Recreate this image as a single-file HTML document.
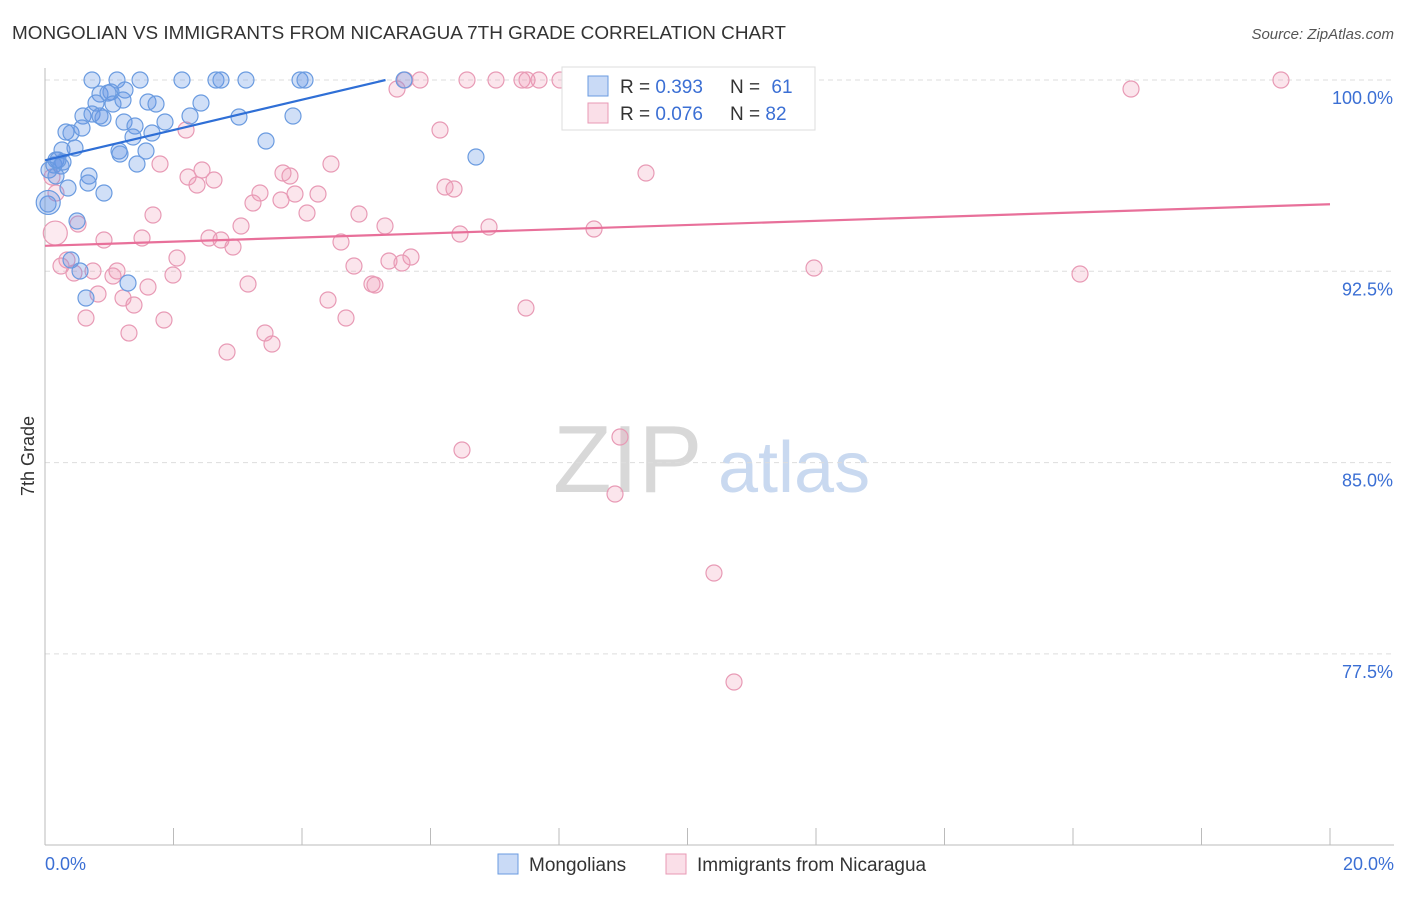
<!DOCTYPE html>
<html><head><meta charset="utf-8">
<style>
body{margin:0;background:#fff;font-family:"Liberation Sans",sans-serif;}
svg text{font-family:"Liberation Sans",sans-serif;}
</style></head>
<body>
<svg id="chart" width="1406" height="892" xmlns="http://www.w3.org/2000/svg">
<text x="12" y="39" font-size="18" fill="#333" textLength="774" lengthAdjust="spacingAndGlyphs">MONGOLIAN VS IMMIGRANTS FROM NICARAGUA 7TH GRADE CORRELATION CHART</text>
<text x="1394" y="39" font-size="15" fill="#555" font-style="italic" text-anchor="end">Source: ZipAtlas.com</text>
<g>
<text x="553" y="492" font-size="96" fill="#d8d8d8" font-family="Liberation Serif, serif">ZIP</text>
<text x="718" y="492" font-size="72" fill="#c9d9f0">atlas</text>
</g>
<g id="grid"></g>
<g id="axes"></g>
<g id="marks"></g>
<text transform="translate(34,456) rotate(-90)" font-size="18" fill="#333" text-anchor="middle">7th Grade</text>
<g>
<rect x="562" y="67" width="253" height="63" fill="#fff" stroke="#ddd"/>
<rect x="588" y="76" width="20" height="20" fill="rgba(100,150,230,0.35)" stroke="#6a9be0"/>
<text x="620" y="93" font-size="19" fill="#333">R = <tspan fill="#3b6fd4">0.393</tspan></text>
<text x="730" y="93" font-size="19" fill="#333">N = <tspan fill="#3b6fd4" dx="6">61</tspan></text>
<rect x="588" y="103" width="20" height="20" fill="rgba(240,150,180,0.3)" stroke="#e89ab5"/>
<text x="620" y="120" font-size="19" fill="#333">R = <tspan fill="#3b6fd4">0.076</tspan></text>
<text x="730" y="120" font-size="19" fill="#333">N = <tspan fill="#3b6fd4">82</tspan></text>
</g>
<g>
<rect x="498" y="854" width="20" height="20" fill="rgba(100,150,230,0.35)" stroke="#6a9be0"/>
<text x="529" y="871" font-size="19" fill="#333">Mongolians</text>
<rect x="666" y="854" width="20" height="20" fill="rgba(240,150,180,0.3)" stroke="#e89ab5"/>
<text x="697" y="871" font-size="19" fill="#333">Immigrants from Nicaragua</text>
</g>
</svg>
<script>
const xTicks=[0,2,4,6,8,10,12,14,16,18,20];
const yTicks=[100,92.5,85,77.5];
const yTickLabels=["100.0%","92.5%","85.0%","77.5%"];
const xTickLabels=["0.0%","20.0%"];
const bluePx=[[92,80],[117,80],[140,80],[182,80],[216,80],[221,80],[246,80],[300,80],[305,80],[404,80],[100,94],[111,92],[125,90],[108,93],[96,103],[113,104],[123,100],[148,102],[156,104],[201,103],[83,116],[92,114],[103,118],[100,116],[124,122],[135,126],[165,122],[190,116],[239,117],[293,116],[66,132],[71,133],[82,128],[133,137],[152,133],[266,141],[119,151],[146,151],[120,154],[75,148],[62,150],[56,160],[63,162],[54,165],[49,170],[61,166],[137,164],[476,157],[56,176],[89,176],[88,183],[68,188],[104,193],[48,204],[77,221],[71,260],[80,271],[128,283],[86,298],[58,160]];
const pinkPx=[[405,80],[420,80],[467,80],[496,80],[522,80],[527,80],[539,80],[560,80],[1281,80],[1131,89],[397,89],[440,130],[186,130],[160,164],[331,164],[202,170],[290,176],[283,173],[646,173],[188,177],[214,180],[197,185],[445,187],[454,189],[260,193],[318,194],[295,194],[281,200],[253,203],[56,193],[52,177],[307,213],[359,214],[153,215],[78,224],[241,226],[385,226],[489,227],[594,229],[142,238],[104,240],[209,238],[221,240],[233,247],[341,242],[460,234],[177,258],[67,260],[411,257],[389,261],[402,263],[61,266],[354,266],[814,268],[1080,274],[93,271],[117,271],[74,273],[173,275],[113,276],[248,284],[372,284],[375,285],[148,287],[98,294],[123,298],[134,305],[328,300],[526,308],[86,318],[164,320],[346,318],[129,333],[265,333],[272,344],[227,352],[462,450],[620,437],[615,494],[714,573],[734,682]];
const X0=45,X1=1330,Y100=80,PXPER=191.3/7.5;
function xs(v){return X0+(v/20)*(X1-X0);}
function ys(v){return Y100+(100-v)*PXPER;}
function invx(p){return +((p-X0)/(X1-X0)*20).toFixed(3);}
function invy(p){return +(100-(p-Y100)/PXPER).toFixed(3);}
const blueX=bluePx.map(p=>invx(p[0])), blueY=bluePx.map(p=>invy(p[1]));
const pinkX=pinkPx.map(p=>invx(p[0])), pinkY=pinkPx.map(p=>invy(p[1]));
const blueBig=[[0.05,95.2]], pinkBig=[[0.16,94.0]];
const blueLine=[[0,96.85],[5.3,100]];
const pinkLine=[[0,93.5],[20,95.13]];
const NS="http://www.w3.org/2000/svg";
function mk(t,a,parent){const e=document.createElementNS(NS,t);for(const k in a)e.setAttribute(k,a[k]);document.getElementById(parent).appendChild(e);return e;}
yTicks.forEach((v,i)=>{
 const l=mk('line',{x1:X0,x2:1394,y1:ys(v),y2:ys(v),stroke:'#ddd','stroke-dasharray':'5,4'},'grid');
 
 
 const t=mk('text',{x:1393,y:ys(v)+24,'font-size':18,fill:'#3b6fd4','text-anchor':'end'},'axes');
 t.textContent=yTickLabels[i];
 
 
});
const ax=mk('line',{x1:X0,x2:X0,y1:68,y2:845,stroke:'#bbb'},'axes');


const bx=mk('line',{x1:X0,x2:1394,y1:845,y2:845,stroke:'#bbb'},'axes');


xTicks.forEach(v=>{
 const l=mk('line',{x1:xs(v),x2:xs(v),y1:828,y2:845,stroke:'#bbb'},'axes');
 
 
});
[[0,'start',45],[20,'end',1394]].forEach((d,i)=>{
 const t=mk('text',{x:d[2],y:870,'font-size':18,fill:'#3b6fd4','text-anchor':d[1]},'axes');
 t.textContent=xTickLabels[i];
 
 
});
function dots(xa,ya,fill,stroke,name,r){
 xa.forEach((x,i)=>{
  const c=mk('circle',{cx:xs(x),cy:ys(ya[i]),r:r,fill:fill,stroke:stroke,'stroke-width':1.2},'marks');
  
  
 });
}
dots(pinkX,pinkY,'rgba(240,150,180,0.25)','#e89ab5','point-nicaragua',8);
dots(pinkBig.map(p=>p[0]),pinkBig.map(p=>p[1]),'rgba(240,150,180,0.2)','#e89ab5','point-nicaragua',12);
dots(blueX,blueY,'rgba(100,150,230,0.3)','#6a9be0','point-mongolian',8);
dots(blueBig.map(p=>p[0]),blueBig.map(p=>p[1]),'rgba(100,150,230,0.3)','#6a9be0','point-mongolian',12);
const bl=mk('line',{x1:xs(blueLine[0][0]),y1:ys(blueLine[0][1]),x2:xs(blueLine[1][0]),y2:ys(blueLine[1][1]),stroke:'#2f6fd6','stroke-width':2.2},'marks');


const pl=mk('line',{x1:xs(pinkLine[0][0]),y1:ys(pinkLine[0][1]),x2:xs(pinkLine[1][0]),y2:ys(pinkLine[1][1]),stroke:'#e8709a','stroke-width':2.2},'marks');


</script>
</body></html>
